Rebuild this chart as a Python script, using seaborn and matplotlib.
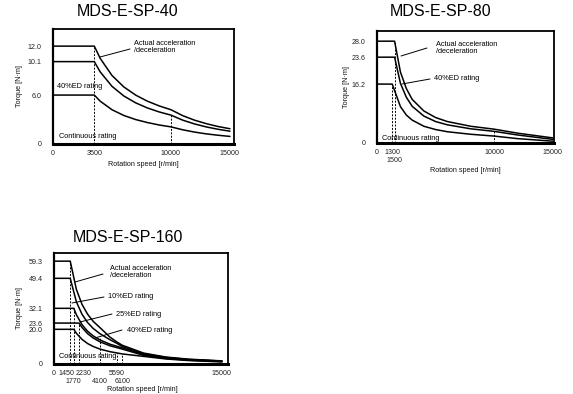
import matplotlib
matplotlib.use("Agg")
import matplotlib.pyplot as plt
import matplotlib.transforms as mtransforms
import seaborn as sns

# ---- data (speed r/min, torque N·m) ----
SP40_SPEED = [0, 3500, 4000, 5000, 6000, 7000, 8000, 9000, 10000, 11000, 12000, 13000, 14000, 15000]
SP40_ACCEL = [12.0, 12.0, 10.5, 8.4, 7.0, 6.0, 5.25, 4.67, 4.2, 3.47, 2.92, 2.49, 2.14, 1.87]
SP40_ED40 = [10.1, 10.1, 8.84, 7.07, 5.89, 5.05, 4.42, 3.93, 3.54, 2.92, 2.46, 2.09, 1.80, 1.57]
SP40_CONT = [6.0, 6.0, 5.25, 4.2, 3.5, 3.0, 2.63, 2.33, 2.1, 1.74, 1.46, 1.24, 1.07, 0.93]
SP40_YTICKS = [0, 6.0, 10.1, 12.0]
SP40_XTICKS = [0, 3500, 10000, 15000]
SP40_XTICKS2 = []
SP40_DASH = [(3500, 12.0), (10000, 3.6)]

SP80_SPEED = [0, 1500, 2000, 2500, 3000, 4000, 5000, 6000, 8000, 10000, 12000, 15000]
SP80_ACCEL = [28.0, 28.0, 19.5, 15.0, 12.0, 8.8, 7.0, 5.9, 4.6, 3.8, 2.7, 1.4]
SP80_ED40 = [23.6, 23.6, 16.4, 12.6, 10.1, 7.4, 5.9, 5.0, 3.9, 3.2, 2.2, 1.0]
SP80_CONT_SPEED = [0, 1300, 2000, 2500, 3000, 4000, 5000, 6000, 8000, 10000, 12000, 15000]
SP80_CONT = [16.2, 16.2, 10.0, 7.7, 6.3, 4.6, 3.7, 3.1, 2.4, 1.9, 1.2, 0.5]
SP80_YTICKS = [0, 16.2, 23.6, 28.0]
SP80_XTICKS = [0, 1300, 10000, 15000]
SP80_XTICKS2 = [1500]
SP80_DASH = [(1300, 16.2), (1500, 28.0), (10000, 3.2)]

SP160_SPEED_A = [0, 1450, 2000, 2500, 3000, 3500, 4100, 5000, 5590, 6100, 8000, 10000, 12000, 15000]
SP160_ACCEL = [59.3, 59.3, 43.0, 34.4, 28.7, 24.6, 21.0, 15.5, 12.8, 10.8, 6.3, 4.0, 2.8, 1.8]
SP160_ED10 = [49.4, 49.4, 35.8, 28.7, 23.9, 20.5, 17.5, 14.0, 12.0, 10.1, 5.9, 3.8, 2.6, 1.7]
SP160_SPEED_B = [0, 1770, 2000, 2500, 3000, 3500, 4100, 5000, 6100, 8000, 10000, 12000, 15000]
SP160_ED25 = [32.1, 32.1, 28.4, 22.7, 18.9, 16.2, 13.9, 11.4, 9.3, 5.4, 3.5, 2.4, 1.6]
SP160_CONT = [20.0, 20.0, 17.7, 14.2, 11.8, 10.1, 8.6, 7.1, 5.8, 4.4, 2.9, 2.0, 1.2]
SP160_SPEED_C = [0, 2230, 2500, 3000, 3500, 4100, 5000, 6100, 8000, 10000, 12000, 15000]
SP160_ED40 = [23.6, 23.6, 21.1, 17.5, 15.0, 12.8, 10.5, 8.6, 5.0, 3.2, 2.2, 1.4]
SP160_YTICKS = [0, 20.0, 23.6, 32.1, 49.4, 59.3]
SP160_XTICKS = [0, 1450, 2230, 5590, 15000]
SP160_XTICKS2 = [1770, 4100, 6100]
SP160_DASH = [(1450, 59.3), (1770, 32.1), (2230, 23.6), (4100, 15.0), (5590, 6.3), (6100, 5.8)]

W, H = 573, 394
sns.set_style("ticks")
plt.rcParams["font.family"] = ["Liberation Sans", "DejaVu Sans"]
plt.rcParams["text.color"] = "black"
plt.rcParams["axes.labelcolor"] = "#111111"

fig = plt.figure(figsize=(W / 100, H / 100), dpi=100)


def fx(x):
    return x / W


def fy(y):
    return 1 - y / H


def make_axes(left, top, right, bottom, xmax, ymax):
    ax = fig.add_axes([fx(left), fy(bottom), (right - left) / W, (bottom - top) / H])
    ax.set_xlim(0, xmax)
    ax.set_ylim(0, ymax)
    for s in ax.spines.values():
        s.set_linewidth(1.3)
        s.set_color("black")
    ax.spines["bottom"].set_linewidth(2.2)
    ax.spines["left"].set_linewidth(1.6)
    return ax


def dress(ax, yticks, xticks, xticks2, dashes, xlab_y, ylab_x, xlab_x=0.5):
    for x, h in dashes:
        ax.vlines(x, 0, h, colors="black", linestyles=(0, (2, 1.5)), linewidth=0.7)
    ax.set_yticks(yticks)
    ax.set_yticklabels(["0" if v == 0 else f"{v:.1f}" for v in yticks])
    ax.set_xticks(xticks)
    ax.set_xticklabels([str(v) for v in xticks])
    ax.set_xticks(xticks2, minor=True)
    ax.set_xticklabels([str(v) for v in xticks2], minor=True)
    ax.tick_params(which="both", length=0, labelsize=5.1, colors="#222222")
    ax.tick_params(axis="x", which="major", pad=4)
    ax.tick_params(axis="x", which="minor", pad=10)
    ax.tick_params(axis="y", pad=8)
    ax.set_xlabel("Rotation speed [r/min]", fontsize=5.2)
    ax.set_ylabel("Torque [N·m]", fontsize=5.2)
    ax.xaxis.set_label_coords(xlab_x, xlab_y)
    ax.yaxis.set_label_coords(ylab_x, 0.5)


def curve(ax, xs, ys):
    sns.lineplot(x=xs, y=ys, ax=ax, color="black", linewidth=1.1, sort=False)


def note(text, tx, ty, line=None):
    fig.text(fx(tx), fy(ty), text, fontsize=5.3, ha="left", va="center", linespacing=1.0)
    if line is not None:
        (x0, y0), (x1, y1) = line
        fig.add_artist(plt.Line2D([fx(x0), fx(x1)], [fy(y0), fy(y1)], color="black", linewidth=0.7))


def title(text, cx, cy):
    fig.text(fx(cx), fy(cy), text, fontsize=11.5, ha="center", va="center")


def nudge(label, dx_px):
    label.set_transform(label.get_transform()
                        + mtransforms.ScaledTranslation(dx_px / 100, 0, fig.dpi_scale_trans))


# ---- MDS-E-SP-40 ----
ax1 = make_axes(53, 29, 234, 144, 15340, 14.1)
curve(ax1, SP40_SPEED, SP40_ACCEL)
curve(ax1, SP40_SPEED, SP40_ED40)
curve(ax1, SP40_SPEED, SP40_CONT)
dress(ax1, SP40_YTICKS, SP40_XTICKS, SP40_XTICKS2, SP40_DASH, -0.15, -0.166)
title("MDS-E-SP-40", 128, 12)
note("Actual acceleration\n/deceleration", 134, 47, ((130, 49), (100, 57)))
note("40%ED rating", 57, 86)
note("Continuous rating", 59, 137)

# ---- MDS-E-SP-80 ----
ax2 = make_axes(377, 31, 554, 143, 15100, 30.8)
curve(ax2, SP80_SPEED, SP80_ACCEL)
curve(ax2, SP80_SPEED, SP80_ED40)
curve(ax2, SP80_CONT_SPEED, SP80_CONT)
dress(ax2, SP80_YTICKS, SP80_XTICKS, SP80_XTICKS2, SP80_DASH, -0.21, -0.153)
title("MDS-E-SP-80", 441, 12)
note("Actual acceleration\n/deceleration", 436, 48, ((427, 48), (401, 56)))
note("40%ED rating", 434, 78, ((430, 79), (402, 84)))
note("Continuous rating", 382, 138)

# ---- MDS-E-SP-160 ----
ax3 = make_axes(54, 253, 228, 364, 15540, 64)
curve(ax3, SP160_SPEED_A, SP160_ACCEL)
curve(ax3, SP160_SPEED_A, SP160_ED10)
curve(ax3, SP160_SPEED_B, SP160_ED25)
curve(ax3, SP160_SPEED_C, SP160_ED40)
curve(ax3, SP160_SPEED_B, SP160_CONT)
dress(ax3, SP160_YTICKS, SP160_XTICKS, SP160_XTICKS2, SP160_DASH, -0.2, -0.178, 0.51)
# crowded first-row labels: spread 1450 / 2230 apart as in the reference
labs = ax3.get_xticklabels()
nudge(labs[1], -3.5)
nudge(labs[2], 4.5)
title("MDS-E-SP-160", 128, 238)
note("Actual acceleration\n/deceleration", 110, 272, ((103, 274), (75, 282)))
note("10%ED rating", 108, 297, ((104, 297), (72, 303)))
note("25%ED rating", 116, 315, ((112, 314), (80, 322)))
note("40%ED rating", 127, 330, ((122, 330), (95, 338)))
note("Continuous rating", 59, 357)

fig.savefig("out.png", dpi=100)
